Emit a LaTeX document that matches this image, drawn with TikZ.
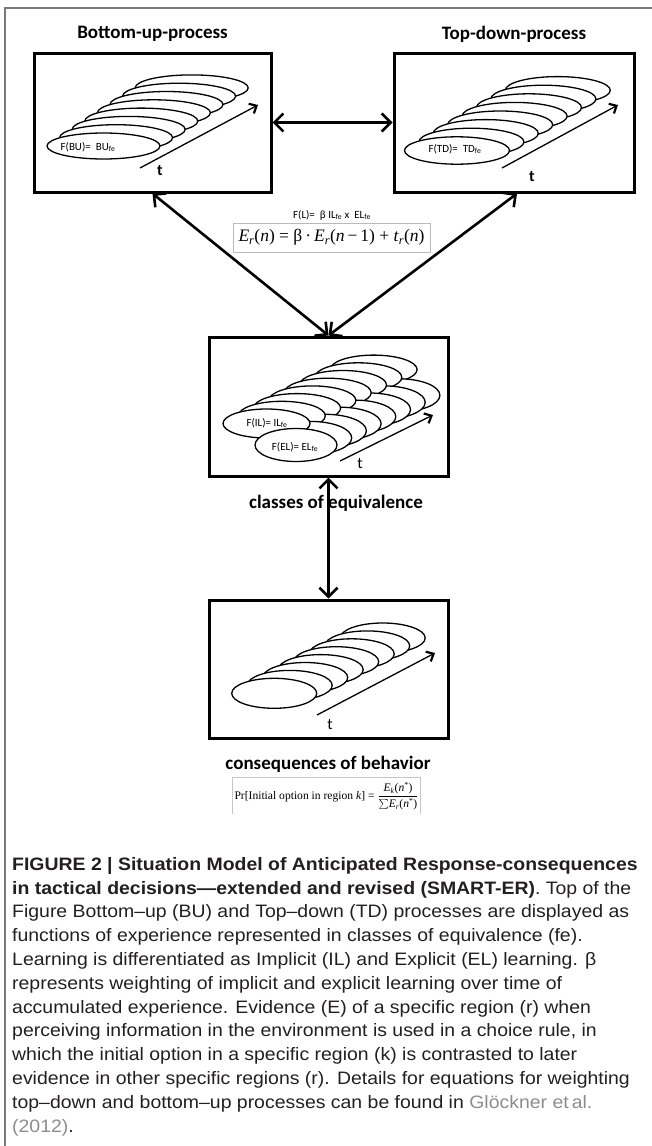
\documentclass[tikz,border=0pt]{standalone}
\usepackage{fontspec}
\setmainfont{Liberation Sans}
\newfontfamily\carl{Carlito}
\newfontfamily\tms{Liberation Serif}
\newfontfamily\capfont{Liberation Sans}[FakeStretch=1.08]
\usetikzlibrary{arrows.meta}
\definecolor{capgray}{HTML}{8C8C8C}
\definecolor{captext}{HTML}{231F20}
\definecolor{framegray}{HTML}{7A7A7A}
\newcommand{\iv}[1]{\textit{#1}}
\begin{document}
\begin{tikzpicture}[x=1pt,y=-1pt,
  box/.style={draw, line width=3pt, inner sep=0pt},
  ell/.style={draw, line width=1.3pt, fill=white},
  conn/.style={line width=2.6pt, {Straight Barb[length=9pt,width=18pt]}-{Straight Barb[length=9pt,width=18pt]}},
  taxis/.style={line width=1.3pt, -{Straight Barb[length=6pt,width=11pt,line width=2.2pt]}},
  title/.style={font=\carl\bfseries\fontsize{19}{22}\selectfont, inner sep=0pt},
  lab/.style={font=\carl\fontsize{11}{13}\selectfont, inner sep=0pt},
  tlab/.style={font=\carl\fontsize{16}{18}\selectfont, inner sep=0pt},
  fbox/.style={inner sep=0pt}
]
\useasboundingbox (0,0) rectangle (652,1146);
% outer frame
\draw[framegray, line width=1.2pt] (5,1146) -- (5,8) -- (652,8);

% titles
\node[title] (tbu) at (152.5,34) {Bottom-up-process};
\node[title] (ttd) at (514,34) {Top-down-process};

% boxes
\node[box, minimum width=237pt, minimum height=139pt] (bu) at (152.5,122.5) {};
\node[box, minimum width=240pt, minimum height=139pt] (td) at (514,122.5) {};
\node[box, minimum width=239pt, minimum height=139pt] (mid) at (328.5,406.5) {};
\node[box, minimum width=239pt, minimum height=138pt] (bot) at (328.5,669) {};

% ellipses box BU
\foreach \i in {7,6,...,0}
  \draw[ell] ({103.5+12.6*\i},{146-8.3*\i}) ellipse [x radius=56.5pt, y radius=13pt];
% ellipses box TD
\foreach \i in {7,6,...,0}
  \draw[ell] ({457+14.4*\i},{150.5-8.6*\i}) ellipse [x radius=52.5pt, y radius=13.7pt];
% ellipses middle box
\foreach \i in {7,6,...,0} {
  \draw[ell] ({266.5+15.3*\i},{423.5-7.7*\i}) ellipse [x radius=43.5pt, y radius=14.5pt];
  \draw[ell] ({296+14.7*\i},{445-7.1*\i}) ellipse [x radius=41pt, y radius=16.5pt];
}
% ellipses bottom box
\foreach \i in {7,6,...,0}
  \draw[ell] ({274.2+15.5*\i},{693.3-7.9*\i}) ellipse [x radius=42.5pt, y radius=15pt];

% ellipse labels
\node[lab] (lbu) at (88,147) {F(BU)=\ \ BU\textsubscript{fe}};
\node[lab] (ltd) at (455,149) {F(TD)=\ \ TD\textsubscript{fe}};
\node[lab] (lil) at (267,423) {F(IL)= IL\textsubscript{fe}};
\node[lab] (lel) at (295,447) {F(EL)= EL\textsubscript{fe}};

% time axes
\coordinate (a1s) at (140,168); \coordinate (a1e) at (258,105);
\coordinate (a2s) at (502,168); \coordinate (a2e) at (618,105);
\coordinate (a3s) at (340,461); \coordinate (a3e) at (433,415);
\coordinate (a4s) at (317,715); \coordinate (a4e) at (435,653);
\draw[taxis] (a1s) -- (a1e);
\draw[taxis] (a2s) -- (a2e);
\draw[taxis] (a3s) -- (a3e);
\draw[taxis] (a4s) -- (a4e);
\node[tlab, font=\carl\bfseries\fontsize{16}{18}\selectfont] (t1) at (160,171) {t};
\node[tlab, font=\carl\bfseries\fontsize{16}{18}\selectfont] (t2) at (532,177) {t};
\node[tlab] (t3) at (360,463) {t};
\node[tlab] (t4) at (330,724) {t};

% connectors
\draw[conn] (bu.east) -- (td.west);
\draw[conn] (bu.south) -- (mid.north);
\draw[conn] ([xshift=3pt]td.south) -- (mid.north);
\draw[conn] (mid.south) -- (bot.north);

% learning label and formula
\node[lab] (fl) at (332,215) {F(L)=\ \ β IL\textsubscript{fe} x\ \ EL\textsubscript{fe}};
\node[fbox, draw=gray!55, line width=1pt, minimum width=197pt, minimum height=29pt] (f1) at (331.5,237.5)
  {\resizebox{186pt}{!}{\tms\fontsize{22}{24}\selectfont \iv{E}\textsubscript{\iv{r}}(\iv{n}) = β\,·\,\iv{E}\textsubscript{\iv{r}}(\iv{n}\,−\,1) + \iv{t}\textsubscript{\iv{r}}(\iv{n})}};

% labels under boxes
\node[title] (lce) at (336,503) {classes of equivalence};
\node[title] (lcb) at (328,764) {consequences of behavior};

% choice rule
\node[fbox, minimum width=187pt, minimum height=36pt] (f2) at (326.5,796)
  {\resizebox{184pt}{!}{\tms\fontsize{12}{14}\selectfont Pr[Initial option in region \iv{k}] = $\displaystyle\frac{\mbox{\iv{E}\textsubscript{\iv{k}}(\iv{n}\textsuperscript{*})}}{\mbox{$\sum$\iv{E}\textsubscript{\iv{r}}(\iv{n}\textsuperscript{*})}}$}};
\draw[gray!45, line width=0.8pt] (f2.south west) -- (f2.north west) -- (f2.north east) -- (f2.south east);

% caption
\node[anchor=north west, inner sep=0pt, align=left, text=captext, font=\capfont\fontsize{18}{23.8}\selectfont] (cap) at (12,857) {%
{\bfseries FIGURE 2 | Situation Model of Anticipated Response-consequences}\\
{\bfseries in tactical decisions—extended and revised (SMART-ER)}. Top of the\\
Figure Bottom–up (BU) and Top–down (TD) processes are displayed as\\
functions of experience represented in classes of equivalence (fe).\\
Learning is differentiated as Implicit (IL) and Explicit (EL) learning. β\\
represents weighting of implicit and explicit learning over time of\\
accumulated experience. Evidence (E) of a specific region (r) when\\
perceiving information in the environment is used in a choice rule, in\\
which the initial option in a specific region (k) is contrasted to later\\
evidence in other specific regions (r). Details for equations for weighting\\
top–down and bottom–up processes can be found in \textcolor{capgray}{Glöckner et\,al.}\\
\textcolor{capgray}{(2012)}.};
\end{tikzpicture}
\end{document}
